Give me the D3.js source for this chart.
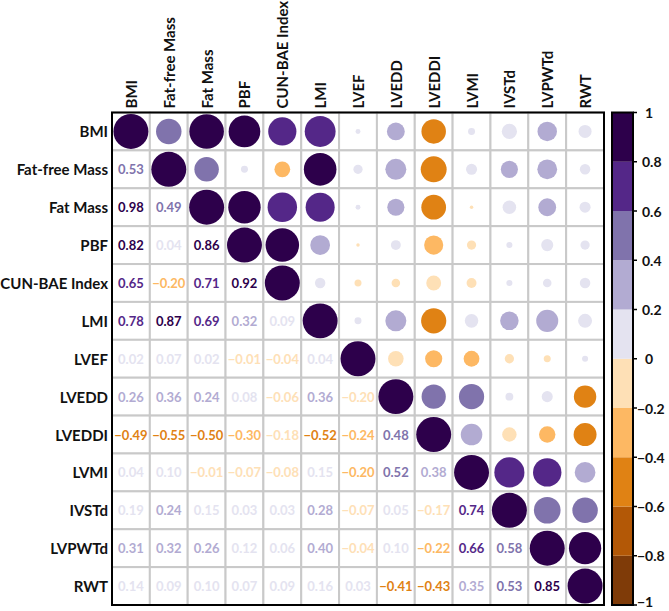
<!DOCTYPE html>
<html>
<head>
<meta charset="utf-8">
<script src="https://cdn.jsdelivr.net/npm/d3@7"></script>
<style>
  html, body { margin: 0; padding: 0; background: #fff; }
  svg { display: block; }
  text { font-family: Lato, "Open Sans", sans-serif; font-weight: 700; }
</style>
</head>
<body>
<svg id="chart" width="669" height="611"></svg>
<script>
// ---- data ----
const variables = ["BMI", "Fat-free Mass", "Fat Mass", "PBF", "CUN-BAE Index", "LMI",
  "LVEF", "LVEDD", "LVEDDI", "LVMI", "IVSTd", "LVPWTd", "RWT"];

// lower triangle rows (row i lists correlations with variables 0..i-1)
const lowerRows = [
  [],
  [0.53],
  [0.98, 0.49],
  [0.82, 0.04, 0.86],
  [0.65, -0.203, 0.71, 0.92],
  [0.78, 0.87, 0.69, 0.32, 0.09],
  [0.02, 0.07, 0.02, -0.01, -0.04, 0.04],
  [0.26, 0.36, 0.24, 0.08, -0.06, 0.36, -0.198],
  [-0.49, -0.55, -0.50, -0.30, -0.18, -0.52, -0.24, 0.48],
  [0.04, 0.10, -0.01, -0.07, -0.08, 0.15, -0.204, 0.52, 0.38],
  [0.19, 0.24, 0.15, 0.03, 0.03, 0.28, -0.07, 0.05, -0.17, 0.74],
  [0.31, 0.32, 0.26, 0.12, 0.06, 0.398, -0.04, 0.10, -0.22, 0.66, 0.58],
  [0.14, 0.09, 0.10, 0.07, 0.09, 0.16, 0.03, -0.41, -0.43, 0.35, 0.53, 0.85]
];

const binColors = ["#7f3b08", "#b35806", "#e08214", "#fdb863", "#fee0b6",
  "#e4e3f0", "#b2abd2", "#8073ac", "#542788", "#2d004b"];
const legendTicks = [1, 0.8, 0.6, 0.4, 0.2, 0, -0.2, -0.4, -0.6, -0.8, -1];

// ---- build full matrix ----
const n = variables.length;
const corr = variables.map(() => new Array(n).fill(1));
lowerRows.forEach((row, i) => row.forEach((v, j) => { corr[i][j] = v; corr[j][i] = v; }));

const cells = [];
for (let i = 0; i < n; i++) for (let j = 0; j < n; j++) cells.push({ i, j, v: corr[i][j] });

// ---- scales ----
const gx0 = 112, gx1 = 604, gy0 = 112.5, gy1 = 605;
const x = d3.scaleBand().domain(variables).range([gx0, gx1]);
const y = d3.scaleBand().domain(variables).range([gy0, gy1]);
const color = d3.scaleQuantize().domain([-1, 1]).range(binColors);
const rScale = d3.scaleSqrt().domain([0, 1]).range([0, x.bandwidth() * 0.462]);
const fmt = d3.format(".2f");

const svg = d3.select("#chart");

// grid cells
svg.append("g").selectAll("rect").data(cells).join("rect")
  .attr("x", d => x(variables[d.j]))
  .attr("y", d => y(variables[d.i]))
  .attr("width", x.bandwidth())
  .attr("height", y.bandwidth())
  .attr("fill", "#fff")
  .attr("stroke", "#c9c9c9")
  .attr("stroke-width", 2);

// upper triangle + diagonal circles
svg.append("g").selectAll("circle").data(cells.filter(d => d.j >= d.i)).join("circle")
  .attr("cx", d => x(variables[d.j]) + x.bandwidth() / 2)
  .attr("cy", d => y(variables[d.i]) + y.bandwidth() / 2)
  .attr("r", d => rScale(Math.abs(d.v)))
  .attr("fill", d => color(Math.min(d.v, 0.9999)));

// lower triangle numbers
svg.append("g").selectAll("text").data(cells.filter(d => d.j < d.i)).join("text")
  .attr("x", d => x(variables[d.j]) + x.bandwidth() / 2)
  .attr("y", d => y(variables[d.i]) + y.bandwidth() / 2)
  .attr("text-anchor", "middle")
  .attr("dominant-baseline", "central")
  .attr("font-size", 13)
  .attr("fill", d => color(d.v))
  .text(d => fmt(d.v));

// outer border
svg.append("rect")
  .attr("x", gx0).attr("y", gy0)
  .attr("width", gx1 - gx0).attr("height", gy1 - gy0)
  .attr("fill", "none").attr("stroke", "#000").attr("stroke-width", 2);

// row labels
svg.append("g").selectAll("text").data(variables).join("text")
  .attr("x", gx0 - 4)
  .attr("y", d => y(d) + y.bandwidth() / 2)
  .attr("text-anchor", "end")
  .attr("dominant-baseline", "central")
  .attr("font-size", 15)
  .attr("fill", "#111")
  .text(d => d);

// column labels
svg.append("g").selectAll("text").data(variables).join("text")
  .attr("transform", d => `translate(${x(d) + x.bandwidth() / 2},${gy0 - 4}) rotate(-90)`)
  .attr("text-anchor", "start")
  .attr("dominant-baseline", "central")
  .attr("font-size", 15)
  .attr("fill", "#111")
  .text(d => d);

// colour bar
const cbX = 612, cbW = 21;
const cy = d3.scaleLinear().domain([1, -1]).range([gy0, gy1]);
const bins = binColors.map((c, k) => ({ c, lo: -1 + k * 0.2, hi: -1 + (k + 1) * 0.2 }));
svg.append("g").selectAll("rect").data(bins).join("rect")
  .attr("x", cbX)
  .attr("y", d => cy(d.hi))
  .attr("width", cbW)
  .attr("height", d => cy(d.lo) - cy(d.hi))
  .attr("fill", d => d.c);
svg.append("rect")
  .attr("x", cbX).attr("y", gy0).attr("width", cbW).attr("height", gy1 - gy0)
  .attr("fill", "none").attr("stroke", "#000").attr("stroke-width", 2);

const lg = svg.append("g");
lg.selectAll("line").data(legendTicks).join("line")
  .attr("x1", cbX + cbW).attr("x2", cbX + cbW + 4)
  .attr("y1", d => cy(d)).attr("y2", d => cy(d))
  .attr("stroke", "#000").attr("stroke-width", 1.5);
lg.selectAll("text").data(legendTicks).join("text")
  .attr("x", d => d < 0 ? 637 : (d === 0 || d === 1 ? 645 : 642))
  .attr("y", d => Math.min(cy(d), 601))
  .attr("dominant-baseline", "central")
  .attr("font-size", 14)
  .attr("fill", "#111")
  .text(d => d === 0 || Math.abs(d) === 1 ? d3.format("d")(d) : d3.format(".1f")(d));
</script>
</body>
</html>
